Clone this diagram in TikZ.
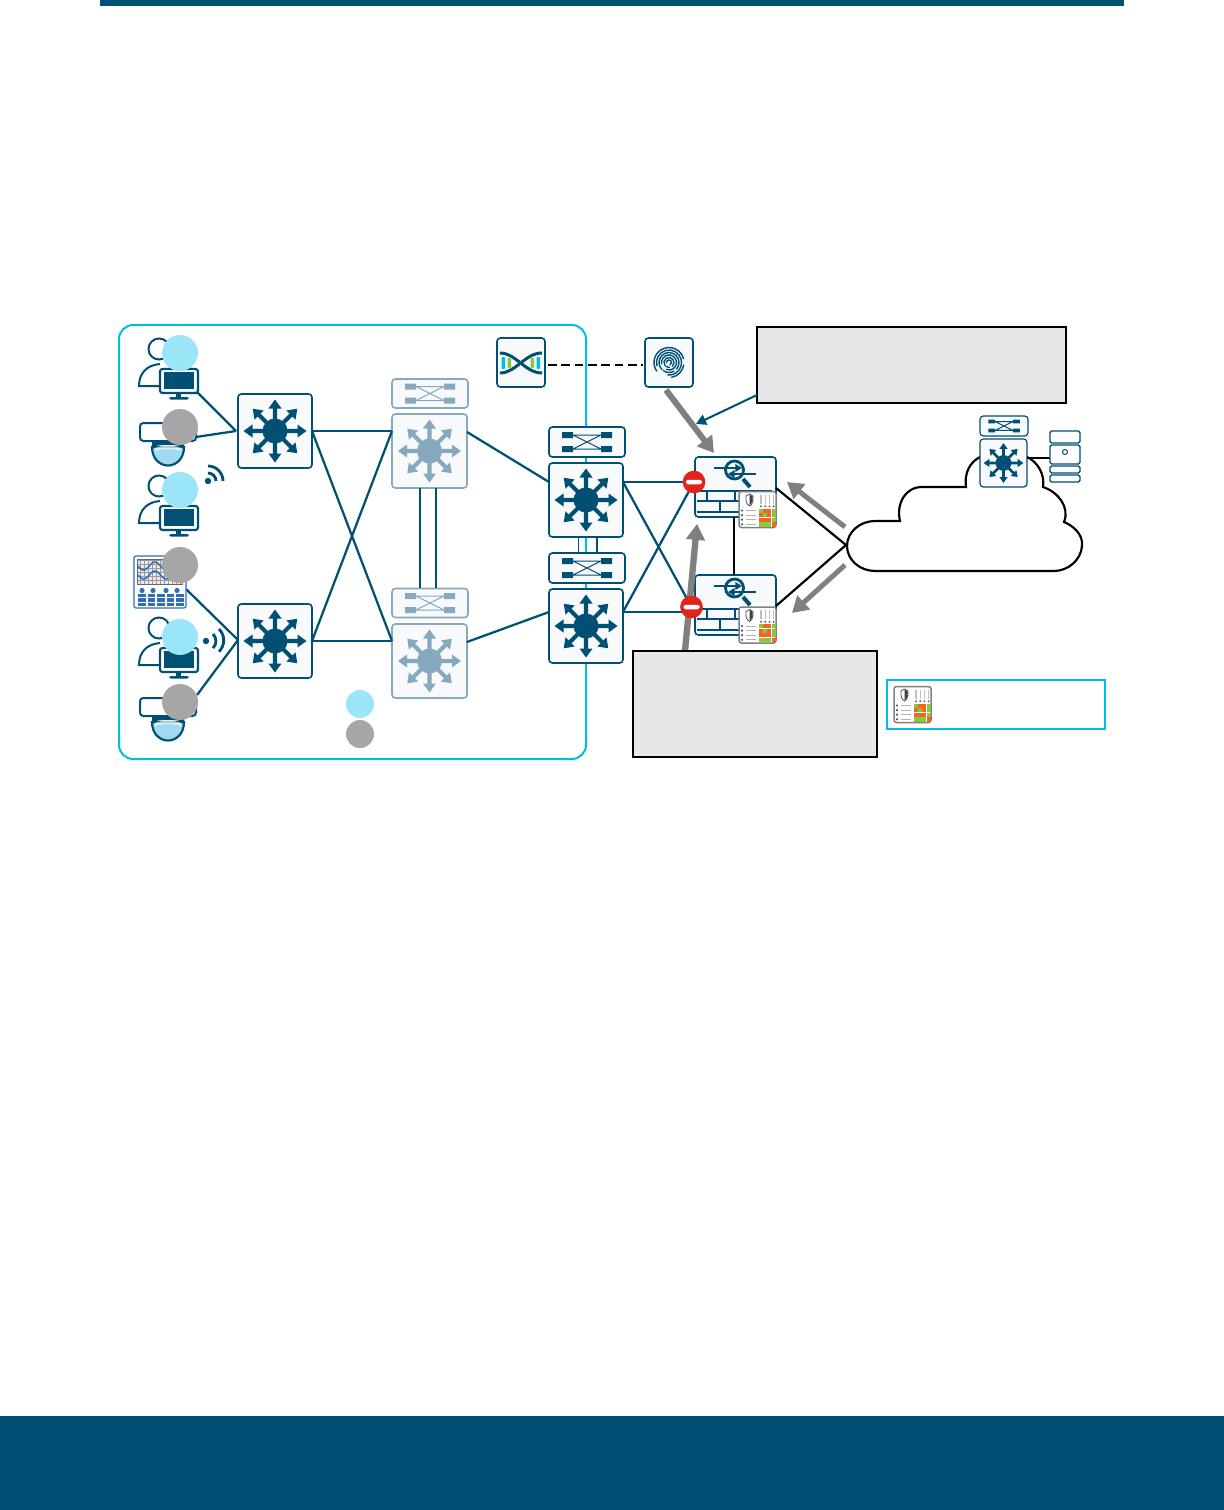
\documentclass[tikz,border=0pt]{standalone}
\usetikzlibrary{arrows.meta}
\definecolor{nav}{HTML}{005073}
\definecolor{ltn}{HTML}{86A9BD}
\definecolor{cy}{HTML}{00BCEB}
\definecolor{lcy}{HTML}{9BE5F9}
\definecolor{gy}{HTML}{A6A6A6}
\definecolor{arr}{HTML}{808080}
\definecolor{cal}{HTML}{E6E7E8}
\definecolor{bxf}{HTML}{F7F9FB}
\definecolor{mg}{HTML}{8CC63F}
\definecolor{mo}{HTML}{F26522}
\definecolor{dome}{HTML}{A0D9F2}
\definecolor{inst}{HTML}{2F6DB5}
\definecolor{stop}{HTML}{E2231A}
\newcommand{\gridcell}[3]{\fill[#3] ({20+#1*4.2},{17+#2*4.6}) rectangle ({20+#1*4.2+3.9},{17+#2*4.6+4.2});}
\tikzset{
 x=0.6pt,y=-0.6pt,
 dbox/.style n args={3}{draw=#3,fill=bxf,line width=0.95pt,rounded corners=2pt,minimum width=#1*0.6pt,minimum height=#2*0.6pt,inner sep=0pt,outer sep=0pt},
 link/.style={draw=nav,line width=1.35pt},
 blk/.style={draw=black,line width=1.3pt},
 gar/.style={draw=arr,line width=#1,-{Triangle[length=9.5pt,width=11pt]}},
 callout/.style={draw=black,fill=cal,line width=1.3pt,inner sep=0pt,outer sep=0pt},
 tag/.style={circle,fill=#1,inner sep=0pt,outer sep=0pt,minimum size=21.6pt},
 ltag/.style={circle,fill=#1,inner sep=0pt,outer sep=0pt,minimum size=16.8pt},
 nogo/.style={circle,fill=stop,inner sep=0pt,outer sep=0pt,minimum size=13.6pt},
 pics/star/.style={code={
   \foreach \a in {0,45,...,315}{
     \fill[#1,rotate=\a] (0,-2.1)--(22.5,-2.1)--(22.5,-6.5)--(31.5,0)--(22.5,6.5)--(22.5,2.1)--(0,2.1)--cycle;}
   \fill[#1] (0,0) circle (12.5);
 }},
 pics/xbar/.style={code={
   \fill[#1] (-25,-10) rectangle (-14,-4) (14,-10) rectangle (25,-4) (-25,4) rectangle (-14,10) (14,4) rectangle (25,10);
   \draw[#1,line width=0.6pt] (-14,-7)--(14,-7) (-14,7)--(14,7) (-14,-7)--(14,7) (-14,7)--(14,-7);
 }},
 pics/user/.style={code={
   \draw[nav,line width=1.2pt] (21,-11) .. controls (8,-10) and (0,-2) .. (0,11) -- (21,11);
   \draw[nav,line width=1.2pt,fill=white] (20,-26) circle (10.5);
   \draw[nav,line width=1.3pt,fill=white,rounded corners=1.5pt] (21,-6) rectangle (59,18);
   \fill[nav] (25,-3) rectangle (55,14);
   \fill[nav] (37,18) rectangle (42,22);
   \fill[nav,rounded corners=1pt] (30,22) rectangle (50,24.5);
 }},
 pics/cam/.style={code={
   \draw[nav,line width=1.2pt,fill=white,rounded corners=2pt] (0,0) rectangle (56,18);
   \draw[nav,line width=1.3pt,fill=dome] (12,24) .. controls (12,36) and (20,42.5) .. (28,42.5) .. controls (36,42.5) and (44,36) .. (44,24) -- cycle;
   \fill[nav] (12,18) -- (44,18) -- (44,24) .. controls (36,21) and (20,21) .. (12,24) -- cycle;
   \fill[white,opacity=.7] (15,25) .. controls (22,22) and (34,22) .. (41,25) -- (41,28) .. controls (34,25.5) and (22,25.5) .. (15,28) -- cycle;
 }},
 pics/minigrid/.style={code={
   \draw[gray,line width=0.9pt,fill=white,rounded corners=1.5pt] (0,0) rectangle (37,36);
   \draw[black!70,line width=0.45pt,fill=white] (7,4.5) -- (10.5,2.5) -- (14,4.5) -- (14,9) .. controls (13.5,12) and (12.5,13.5) .. (10.5,14.5) .. controls (8.5,13.5) and (7.5,12) .. (7,9) -- cycle;
   \fill[black!75] (10.5,3) -- (13.6,4.7) -- (13.6,9) .. controls (13,11.5) and (12,13) .. (10.5,14) -- cycle;
   \foreach \x in {22,26.2,30.4,34.6}{\draw[black!25,line width=0.8pt] (\x,3)--(\x,12); \fill[black!60] (\x,14.8) circle (1.1);}
   \gridcell{0}{0}{mg}\gridcell{1}{0}{mo}\gridcell{2}{0}{mo}\gridcell{3}{0}{mg}
   \gridcell{0}{1}{mo}\gridcell{1}{1}{mg}\gridcell{2}{1}{mo}\gridcell{3}{1}{mg}
   \gridcell{0}{2}{mo}\gridcell{1}{2}{mo}\gridcell{2}{2}{mo}\gridcell{3}{2}{mg}
   \gridcell{0}{3}{mg}\gridcell{1}{3}{mg}\gridcell{2}{3}{mg}\gridcell{3}{3}{mo}
   \foreach \w in {19,23.6,28.2,32.8}{
     \fill[black!70] (3,\w) circle (1.2);
     \draw[black!30,line width=0.5pt] (7,\w) -- (17,\w);
   }
 }},
 pics/fwicon/.style={code={
   \draw[nav,line width=1.7pt] (39.5,13) circle (9);
   \draw[nav,line width=2.4pt] (48,22) -- (55,30);
   \draw[nav,line width=1.4pt,-{Triangle[length=4pt,width=4.6pt]}] (19,11) -- (47,11);
   \draw[nav,line width=1.4pt,-{Triangle[length=4pt,width=4.6pt]}] (61,17) -- (33,17);
   \draw[nav,line width=1.35pt] (2,34) -- (77,34) (2,44) -- (44,44) (2,55) -- (44,55) (12,34) -- (12,44) (40,34) -- (40,44) (25,44) -- (25,55);
 }},
}
\begin{document}
\begin{tikzpicture}
\useasboundingbox (0,0) rectangle (1224,1510);
\fill[nav] (100,0) rectangle (1124,6);
\fill[nav] (0,1416) rectangle (1224,1510);
% frame
\draw[cy,line width=1.2pt,rounded corners=8.5pt] (119,325) rectangle (586,759);

% devices
\node[dbox={74}{74}{nav}] (a) at (275,431) {};
\node[dbox={74}{74}{nav}] (b) at (275,641) {};
\node[dbox={75}{74}{ltn}] (d1) at (429.5,451) {};
\node[dbox={75}{74}{ltn}] (d2) at (429.5,661) {};
\node[dbox={76}{29}{ltn}] (dx1) at (430,393.5) {};
\node[dbox={76}{29}{ltn}] (dx2) at (430,603) {};
\node[dbox={74}{74}{nav}] (r1) at (586,500) {};
\node[dbox={74}{74}{nav}] (r2) at (586,626) {};
\node[dbox={76}{30}{nav}] (rx1) at (587,442) {};
\node[dbox={76}{30}{nav}] (rx2) at (587,568) {};
\node[dbox={81}{60}{nav}] (f1) at (735.5,487) {};
\node[dbox={81}{60}{nav}] (f2) at (735.5,605) {};
\coordinate (s1) at (694,482);
\coordinate (s2) at (691.5,607);
\coordinate (cl) at (846,545);
\coordinate (u1) at (197,392);
\coordinate (c1) at (196,437);
\coordinate (p1) at (186,589);
\coordinate (c2) at (197,695);
\coordinate (ain) at (236,431);
\coordinate (bin) at (238,640);

% double links
\draw[nav,line width=1.2pt] (420,488) -- (420,588) (436,488) -- (436,588);
\draw[nav,line width=1.1pt] (578.5,537) -- (578.5,553) (597,537) -- (597,553);
% links
\draw[link] (u1) -- (ain);
\draw[link] (c1) -- (ain);
\draw[link] (p1) -- (bin);
\draw[link] (c2) -- (bin);
\draw[link] (a.east) -- (d1.west |- a.east);
\draw[link] (a.east) -- (d2.west |- b.east);
\draw[link] (b.east) -- (d1.west |- a.east);
\draw[link] (b.east) -- (d2.west |- b.east);
\path (467,432) coordinate (d1o) (549,482) coordinate (r1i) (467,642) coordinate (d2o) (549,612) coordinate (r2i);
\draw[link] (d1o) -- (r1i);
\draw[link] (d2o) -- (r2i);
\coordinate (r1o) at (623,482);
\coordinate (r2o) at (623,612);
\draw[link] (r1o) -- (s1);
\draw[link] (r2o) -- (s2 |- r2o);
\draw[link] (r1o) -- (s2);
\draw[link] (r2o) -- (s1);
% black links
\draw[blk] (734,517) -- (734,575);
\draw[blk] (776,488) -- (cl);
\draw[blk] (776,606) -- (cl);

% icons on boxes
\pic at (a) {star=nav};
\pic at (b) {star=nav};
\pic at (d1) {star=ltn};
\pic at (d2) {star=ltn};
\pic at (r1) {star=nav};
\pic at (r2) {star=nav};
\pic at (dx1) {xbar=ltn};
\pic at (dx2) {xbar=ltn};
\pic at (rx1) {xbar=nav};
\pic at (rx2) {xbar=nav};
\pic at (695,457) {fwicon};
\pic at (695,575) {fwicon};
\pic at (739,491.5) {minigrid};
\pic at (739,607) {minigrid};

% endpoints
\pic at (139,375) {user};
\pic at (139,512) {user};
\pic at (139,654) {user};
\pic at (140,423) {cam};
\pic at (140,698) {cam};
% wifi
\fill[nav] (208,481) circle (3.2);
\draw[nav,line width=1.7pt] (208,473) arc (-90:0:8) (208,466) arc (-90:0:15);
\fill[nav] (206,641) circle (3.2);
\draw[nav,line width=1.7pt] (213,634) arc (-45:45:10) (219,629) arc (-45:45:16);
% instrument panel
\node[draw=inst,fill=white,line width=0.7pt,rounded corners=1.2pt,minimum width=31.2pt,minimum height=31.2pt,inner sep=0pt,outer sep=0pt] (ip) at (160,582) {};
\fill[black!8] (137,559) rectangle (182,584);
\draw[black!40,line width=0.25pt,step=2.4pt] (137,559) grid (182,584);
\draw[black!60,line width=0.4pt] (137,559) rectangle (182,584);
\draw[inst,line width=0.9pt] plot[domain=138:181,samples=50,smooth] (\x,{566+4*sin(16*(\x-138))});
\draw[inst,line width=0.9pt] plot[domain=138:181,samples=50,smooth] (\x,{575+4*sin(16*(\x-138))});
\foreach \x in {142,153,166,177}{\fill[inst] (\x,590.5) circle (2.6);}
\foreach \x in {138,147.5,157,166.5,176}{\foreach \y in {593.5,598,602.5}{\fill[inst] (\x,\y) rectangle +(7.5,3.8);}}

% tags
\node[tag=lcy] (t1) at (180,353) {};
\node[tag=gy] (t2) at (180,427) {};
\node[tag=lcy] (t3) at (180,490) {};
\node[tag=gy] (t4) at (180,565) {};
\node[tag=lcy] (t5) at (180,637) {};
\node[tag=gy] (t6) at (180,702) {};
\node[ltag=lcy] (l1) at (360,704) {};
\node[ltag=gy] (l2) at (360,734) {};

% dna / fingerprint
\node[dbox={48}{49}{nav}] (dna) at (521,362.5) {};
\node[dbox={48}{49}{nav}] (fp) at (669,362.5) {};
\draw[black,line width=1.35pt,dash pattern=on 5.2pt off 2.8pt] (dna.east) ++(3,2.5) coordinate (dl) (fp.west) ++(-2,2.5) coordinate (dr) (dl) -- (dr);
\fill[cy,rounded corners=.5pt] (501.5,357) rectangle (505,369) (536.5,357) rectangle (540,369);
\fill[mg,rounded corners=.5pt] (507.5,358) rectangle (511,368) (530.5,358) rectangle (534,368);
\draw[nav,line width=1.8pt] (500,353) .. controls (516,353) and (525,373) .. (542,373);
\draw[nav,line width=1.8pt] (500,373) .. controls (516,373) and (525,353) .. (542,353);
\foreach \r/\s/\e in {2.5/-180/70,5/-215/50,7.5/-190/110,10/-225/40,12.5/-195/95,15/-215/-15}{
  \draw[nav,line width=.85pt,line cap=round] (669,362.5) ++(\s:\r) arc (\s:\e:\r);}
\draw[nav,line width=.85pt,line cap=round] (669,362.5) ++(85:5) arc (85:130:5) (669,362.5) ++(60:10) arc (60:125:10) (669,362.5) ++(10:15) arc (10:80:15);

% cloud
\draw[black,fill=white,line width=1.3pt] (875,521) -- (900,521) .. controls (896,504) and (905,487) .. (922,487) -- (966,487) .. controls (964,473) and (970,462) .. (980,457) -- (1027,457) .. controls (1038,462) and (1045,475) .. (1043,487) .. controls (1058,492) and (1070,507) .. (1064,522) .. controls (1078,528) and (1083,538) .. (1082,546) .. controls (1081,560) and (1068,571) .. (1054,571) -- (875,571) .. controls (860,571) and (847,560) .. (847,546) .. controls (847,532) and (860,521) .. (875,521) -- cycle;
\node[dbox={47}{48}{nav},line width=.7pt] (cs) at (1003.5,463) {};
\node[dbox={48}{20}{nav},line width=.7pt] (cx) at (1004,426) {};
\pic[scale=.63] at (cs) {star=nav};
\pic[scale=.63] at (cx) {xbar=nav};
\node[minimum width=18pt,minimum height=30.6pt,inner sep=0,outer sep=0] (srv) at (1065,456.5) {};
\draw[black,line width=.7pt] (cs.east |- 0,458) -- (srv.west |- 0,458);
\foreach \t/\bb in {431/443,445/464,466/473,475/482}{
  \draw[nav,line width=.8pt,fill=white,rounded corners=1pt] (1050,\t) rectangle (1080,\bb);}
\draw[nav,line width=.6pt] (1065,452) circle (2.5);

% grey arrows
\coordinate (g1a) at (666,390); \coordinate (g1b) at (714,453);
\coordinate (g2a) at (845,527); \coordinate (g2b) at (787,482);
\coordinate (g3a) at (845,565); \coordinate (g3b) at (792,613);
\coordinate (g4a) at (685,651); \coordinate (g4b) at (697,524);
\draw[gar=3.6pt] (g1a) -- (g1b);
\draw[gar=3pt] (g2a) -- (g2b);
\draw[gar=3pt] (g3a) -- (g3b);
\draw[gar=3.8pt] (g4a) -- (g4b);

% stop signs
\node[nogo] (n1) at (s1) {};
\node[nogo] (n2) at (s2) {};
\fill[white,rounded corners=1pt] (686,479.8) rectangle (702,484.4);
\fill[white,rounded corners=1pt] (683.5,604.8) rectangle (699.5,609.4);

% callouts
\node[callout,minimum width=185.4pt,minimum height=45.6pt] (k1) at (911.5,365) {};
\node[callout,minimum width=146.4pt,minimum height=63.6pt] (k2) at (755,704) {};
\draw[nav,line width=1.2pt,-{Triangle[length=6pt,width=6.5pt]}] (k1.west |- 0,395) -- (696,424);

% legend
\node[draw=cy,line width=1.1pt,minimum width=130.8pt,minimum height=29.4pt,inner sep=0,outer sep=0] (lg) at (996,704.5) {};
\pic at (894,686.5) {minigrid};
\end{tikzpicture}
\end{document}
